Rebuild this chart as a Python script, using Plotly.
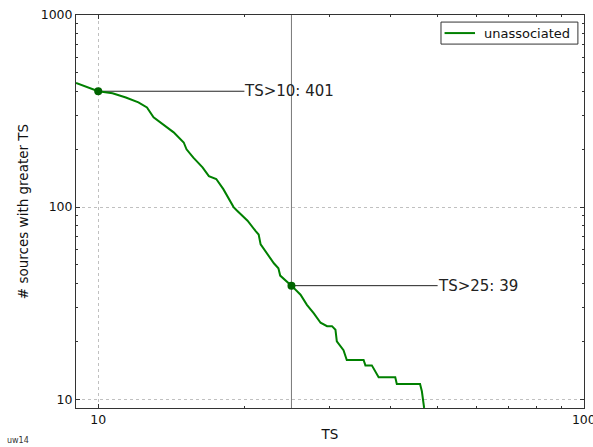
import math
import plotly.graph_objects as go

# ---- data ----
ts_vals = [9.0, 10.0, 10.7, 11.4, 12.1, 12.6, 13.0, 13.6, 14.3, 15.0, 15.2, 15.7,
           16.4, 16.9, 17.5, 18.1, 19.0, 19.3, 20.3, 21.1, 21.4, 21.6, 22.3, 23.0,
           23.5, 23.7, 25.0, 26.1, 26.9, 27.8, 28.7, 29.6, 30.3, 30.8, 31.0, 31.5,
           32.0, 32.5, 35.2, 35.5, 36.6, 37.8, 40.9, 41.2, 46.0, 46.4, 46.9]
counts = [443, 401, 391, 372, 351, 330, 293, 270, 245, 217, 200, 181,
          161, 145, 140, 124, 100, 96, 85, 75, 72, 64, 57, 51,
          48, 44, 39, 35, 31, 28, 25, 24, 24, 23, 20, 19,
          18, 16, 16, 15, 15, 13, 13, 12, 12, 11, 9]

marker_ts = [10, 25]
marker_counts = [401, 39]
annot_labels = ["TS>10: 401", "TS>25: 39"]
vline_ts = 25
series_name = "unassociated"

x_ticks = [10, 100]
y_ticks = [10, 100, 1000]
x_minor = [20, 30, 40, 50, 60, 70, 80, 90]
y_minor = [20, 30, 40, 50, 60, 70, 80, 90, 200, 300, 400, 500, 600, 700, 800, 900]

FONT = "DejaVu Sans"
AXC = "#333333"
GREEN = "#008000"
XR = [math.log10(9), 2.0004]
YR = [math.log10(9), 3]

fig = go.Figure()

# vertical reference line
fig.add_trace(go.Scatter(x=[vline_ts, vline_ts], y=[9, 1000], mode="lines",
                         line=dict(color="#777777", width=1), showlegend=False,
                         hoverinfo="skip"))

# annotation connector lines
for t, c in zip(marker_ts, marker_counts):
    fig.add_trace(go.Scatter(x=[t, 2 * t], y=[c, c], mode="lines",
                             line=dict(color="#222222", width=1), showlegend=False,
                             hoverinfo="skip"))

# main curve
fig.add_trace(go.Scatter(x=ts_vals, y=counts, mode="lines", name=series_name,
                         line=dict(color=GREEN, width=2), showlegend=False))

# markers
fig.add_trace(go.Scatter(x=marker_ts, y=marker_counts, mode="markers",
                         marker=dict(color="#006400", size=8), showlegend=False))

# invisible trace for minor-tick overlay axes
fig.add_trace(go.Scatter(x=[10], y=[10], xaxis="x2", yaxis="y2", mode="markers",
                         marker=dict(opacity=0), showlegend=False, hoverinfo="skip"))

for t, c, lab in zip(marker_ts, marker_counts, annot_labels):
    fig.add_annotation(x=math.log10(2 * t), y=math.log10(c), text=lab,
                       xref="x", yref="y", showarrow=False, xanchor="left",
                       yanchor="middle", xshift=-2,
                       font=dict(family=FONT, size=15, color="#222222"))

fig.add_annotation(x=-0.14, y=-0.082, xref="paper", yref="paper", text="uw14",
                   showarrow=False, xanchor="left", yanchor="middle",
                   font=dict(family=FONT, size=8, color="#333333"))

# legend box (drawn manually to match the compact matplotlib legend)
fig.add_shape(type="rect", xref="paper", yref="paper", x0=0.7185, x1=0.988,
              y0=0.926, y1=0.982, line=dict(color=AXC, width=1), fillcolor="white",
              layer="above")
fig.add_shape(type="line", xref="paper", yref="paper", x0=0.7255, x1=0.7855,
              y0=0.954, y1=0.954, line=dict(color=GREEN, width=2), layer="above")
fig.add_annotation(x=0.799, y=0.954, xref="paper", yref="paper", text=series_name,
                   showarrow=False, xanchor="left", yanchor="middle",
                   font=dict(family=FONT, size=13, color="#111111"))

common = dict(type="log", showline=True, linecolor=AXC, linewidth=1, mirror="ticks",
              ticks="inside", ticklen=4, tickcolor=AXC, tickwidth=1,
              showgrid=True, gridcolor="#c0c0c0", griddash="dot", gridwidth=1,
              zeroline=False, automargin=False, ticklabeloverflow="allow",
              tickfont=dict(family=FONT, size=12.5, color="#111111"))
minor_common = dict(type="log", showline=True, linecolor=AXC, linewidth=1,
                    mirror="ticks", ticks="inside", ticklen=2, tickcolor=AXC,
                    tickwidth=1, showgrid=False, zeroline=False, automargin=False,
                    showticklabels=False, tickmode="array")

fig.update_layout(
    xaxis=dict(range=XR, tickmode="array", tickvals=x_ticks,
               ticktext=[str(v) for v in x_ticks], ticklabelstandoff=0,
               title=dict(text="TS", font=dict(family=FONT, size=13.5, color="#111111"),
                          standoff=3),
               **common),
    yaxis=dict(range=YR, tickmode="array", tickvals=y_ticks,
               ticktext=[str(v) for v in y_ticks],
               title=dict(text="# sources with greater TS",
                          font=dict(family=FONT, size=13.5, color="#111111"),
                          standoff=8),
               **common),
    xaxis2=dict(range=XR, overlaying="x", anchor="y2", side="bottom",
                tickvals=x_minor, **minor_common),
    yaxis2=dict(range=YR, overlaying="y", anchor="x2", side="left",
                tickvals=y_minor, **minor_common),
    width=593, height=447,
    margin=dict(l=76, r=9, t=15, b=39),
    paper_bgcolor="white", plot_bgcolor="white",
    font=dict(family=FONT),
    showlegend=False,
)

fig.write_html("out.html")
